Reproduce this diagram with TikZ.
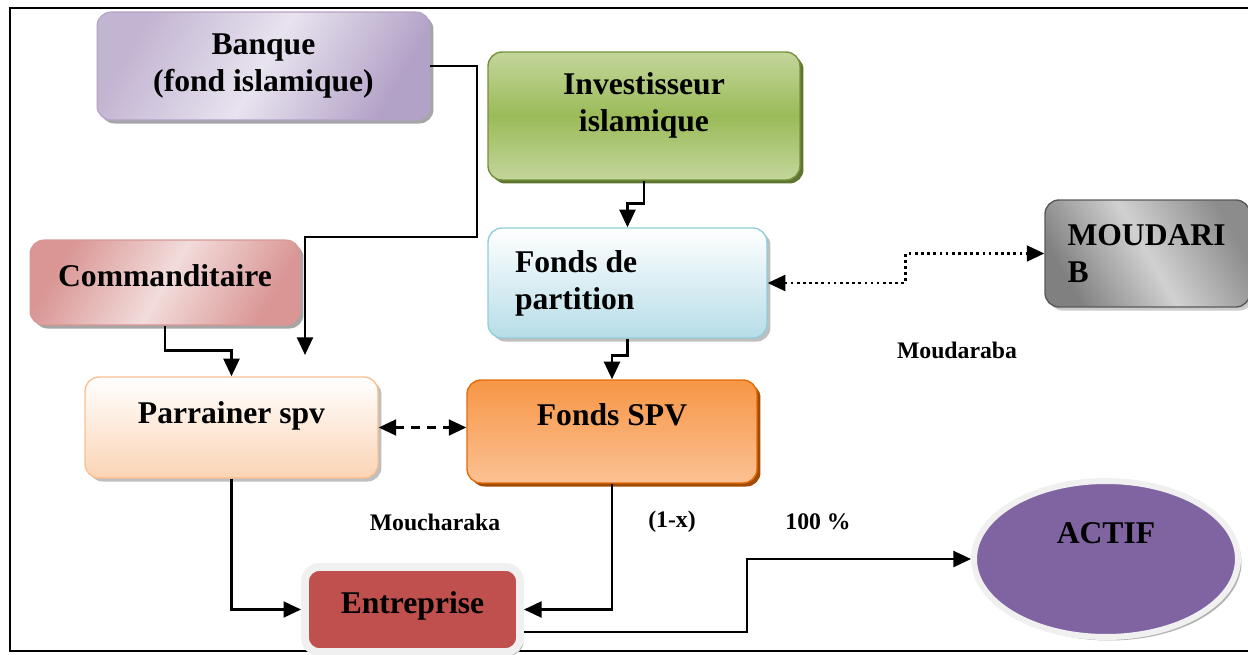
\documentclass[tikz,border=0pt]{standalone}
\usepackage{fontspec}
\setmainfont{Liberation Serif}
\usetikzlibrary{arrows.meta,shadows,shapes.geometric}

\definecolor{bankdark}{HTML}{B3A2C7}
\definecolor{banklight}{HTML}{E8E3EF}
\definecolor{invdark}{HTML}{9BBB59}
\definecolor{invlight}{HTML}{C3D69B}
\definecolor{invline}{HTML}{76923C}
\definecolor{partbot}{HTML}{B6DDE8}
\definecolor{partline}{HTML}{92CDDC}
\definecolor{comdark}{HTML}{D99694}
\definecolor{comlight}{HTML}{F2DCDB}
\definecolor{parrbot}{HTML}{FBD4B4}
\definecolor{parrline}{HTML}{FAC090}
\definecolor{spvtop}{HTML}{F79646}
\definecolor{spvbot}{HTML}{FBC193}
\definecolor{spvline}{HTML}{E46C0A}
\definecolor{entfill}{HTML}{C0504D}
\definecolor{actfill}{HTML}{8064A2}
\definecolor{rimgray}{HTML}{F0F0F0}

\tikzset{
  box/.style={rounded corners=8pt, align=center, inner sep=0pt,
    font=\bfseries\fontsize{18}{21}\selectfont},
  shad/.style={drop shadow={shadow xshift=2pt, shadow yshift=-2pt, fill=#1, opacity=1}},
  lbl/.style={font=\bfseries\fontsize{13.5}{16}\selectfont},
}

\begin{document}
\begin{tikzpicture}[x=0.02cm, y=-0.02cm, >={Triangle[length=10pt,width=9pt]}, line width=1.5pt]
\useasboundingbox (0,0) rectangle (1248,655);
% cadre
\draw[line width=1.2pt] (1248,8) -- (10,8) -- (10,651) -- (1248,651);

\node[box, shad=gray!70, draw=bankdark, line width=0.6pt, left color=bankdark!80, right color=bankdark, middle color=banklight, shading angle=60, minimum width=6.66cm, minimum height=2.16cm](bank) at (263.5,66){Banque\\(fond islamique)};
\node[box, shad=invline!80!black, draw=invline, line width=0.8pt, top color=invlight, bottom color=invlight, middle color=invdark, minimum width=6.24cm, minimum height=2.56cm, text depth=0.56cm](inv) at (644,116){Investisseur\\islamique};
\node[box, shad=gray!50, draw=partline, line width=0.8pt, top color=white, bottom color=partbot, align=flush left, text width=4.5cm, inner xsep=0.54cm, minimum height=2.2cm](fpart) at (627.5,283){Fonds de\\partition};
\node[box, shad=gray!40, draw=black!65, line width=0.8pt, left color=black!50, right color=black!45, middle color=black!18, shading angle=120, align=flush left, text width=3.2cm, inner xsep=0.45cm, minimum height=2.14cm](moud) at (1147.5,253.5){MOUDARI\\B};
\node[box, shad=gray!70, draw=comdark, line width=0.6pt, left color=comdark, right color=comdark, middle color=comlight, shading angle=60, minimum width=5.4cm, minimum height=1.7cm, text depth=0.26cm](comm) at (165,282.5){Commanditaire};
\node[box, shad=gray!50, draw=parrline, line width=0.8pt, top color=white, bottom color=parrbot, minimum width=5.86cm, minimum height=2.02cm, text depth=0.58cm](parr) at (231.5,427.5){Parrainer spv};
\node[box, shad=spvline!70!black, draw=spvline, line width=0.8pt, top color=spvtop, bottom color=spvbot, minimum width=5.8cm, minimum height=2.06cm, text depth=0.66cm](spv) at (612,431.5){Fonds SPV};
\node[box, shad=gray!60, draw=rimgray, line width=4.5pt, fill=entfill, minimum width=4.3cm, minimum height=1.7cm, text depth=0.26cm](ent) at (412.5,609.5){Entreprise};
\node[ellipse, shad=gray!60, draw=rimgray, line width=3.4pt, fill=actfill, inner sep=0pt, minimum width=5.28cm, minimum height=3.12cm, font=\bfseries\fontsize{18}{21}\selectfont, text depth=1.04cm](actif) at (1106,559){ACTIF};

\node[lbl](mdb) at (957,350){Moudaraba};
\node[lbl](msk) at (435,522){Moucharaka};
\node[lbl](px) at (672,522){(1-x)};
\node[lbl](pct) at (818,522){100 \%};

\coordinate (bankin) at (305,355);
\draw[->](bank.east) -| (477,237) -| (bankin);
\draw[->](comm.south) -- ++(0,25) -| (parr.north);
\draw[->](inv.south) -- ++(0,23) -| (fpart.north);
\draw[->](fpart.south) -- ++(0,17) -| (spv.north);
\draw[<->, dotted](fpart.east) -- ++(138,0) |- (moud.west);
\draw[<->, dash pattern=on 5pt off 4pt](parr.east) -- (parr.east -| spv.west);
\draw[->](parr.south) |- (ent.west);
\draw[->](spv.south) |- (ent.east);
\draw[->]([yshift=-0.45cm]ent.east) -- ++(223,0) |- (actif.west);
\end{tikzpicture}
\end{document}
